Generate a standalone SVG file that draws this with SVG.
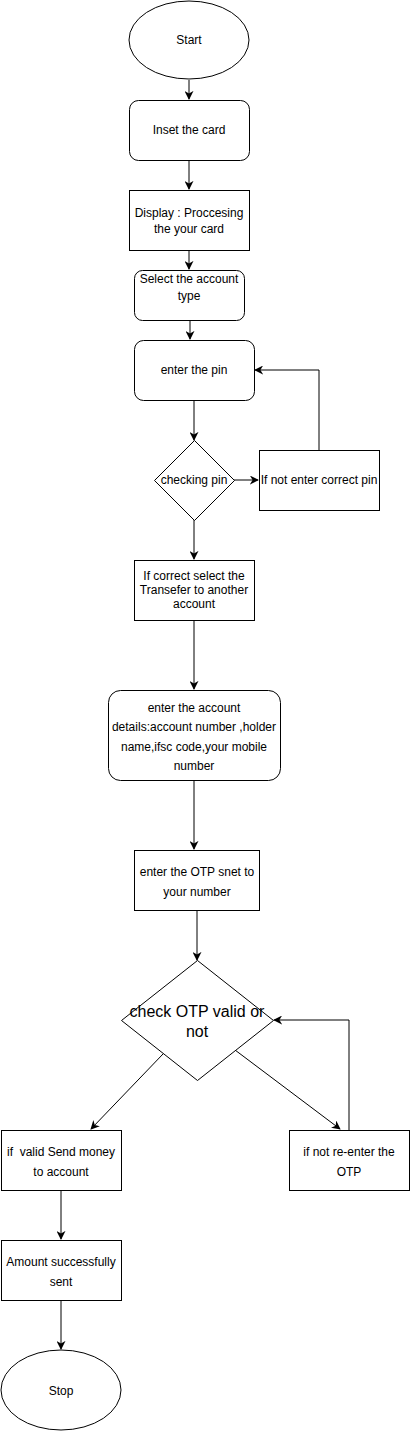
<svg xmlns="http://www.w3.org/2000/svg" width="410" height="1431" viewBox="0 0 410 1431">
<style>
.s{fill:#fff;stroke:#000;stroke-width:1}
.t{font-family:"Liberation Sans",Arial,sans-serif;font-size:12px;fill:#000;text-anchor:middle;white-space:pre}
.big{font-size:16px}
.c{fill:none;stroke:#000;stroke-width:1}
</style>
<defs>
<marker id="a" viewBox="0 0 10 10" refX="9" refY="5" markerWidth="9" markerHeight="9" markerUnits="userSpaceOnUse" orient="auto">
<path d="M0,0 L10,5 L0,10 L3,5 Z" fill="#000"/>
</marker>
</defs>
<rect width="410" height="1431" fill="#fff"/>
<g id="connectors">
<path class="c" d="M189,80 V99" marker-end="url(#a)"/>
<path class="c" d="M189,160 V189" marker-end="url(#a)"/>
<path class="c" d="M189,250 V269" marker-end="url(#a)"/>
<path class="c" d="M190,320 V339" marker-end="url(#a)"/>
<path class="c" d="M194,400 V440" marker-end="url(#a)"/>
<path class="c" d="M234,480 H258" marker-end="url(#a)"/>
<path class="c" d="M319,450 V370 H255" marker-end="url(#a)"/>
<path class="c" d="M194,520 V559" marker-end="url(#a)"/>
<path class="c" d="M194,620 V689" marker-end="url(#a)"/>
<path class="c" d="M194,780 V849" marker-end="url(#a)"/>
<path class="c" d="M197,910 V960" stroke="#555" marker-end="url(#a)"/>
<path class="c" d="M163,1054 L91,1129" marker-end="url(#a)"/>
<path class="c" d="M235,1050 L340,1129" marker-end="url(#a)"/>
<path class="c" d="M349,1130 V1020 H274" marker-end="url(#a)"/>
<path class="c" d="M61,1190 V1239" marker-end="url(#a)"/>
<path class="c" d="M61,1300 V1349" marker-end="url(#a)"/>
</g>
<g id="start">
<ellipse class="s" cx="189" cy="40" rx="60" ry="39"/>
<text class="t" x="189" y="44">Start</text>
</g>
<g id="insert">
<rect class="s" x="129.5" y="100.5" width="120" height="60" rx="9"/>
<text class="t" x="189" y="134">Inset the card</text>
</g>
<g id="display">
<rect class="s" x="129.5" y="190.5" width="120" height="60"/>
<text class="t" x="189" y="217">Display : Proccesing</text>
<text class="t" x="189" y="233">the your card</text>
</g>
<g id="select">
<rect class="s" x="134.5" y="270.5" width="110" height="50" rx="8"/>
<text class="t" x="189" y="283">Select the account</text>
<text class="t" x="189" y="300">type</text>
</g>
<g id="enterpin">
<rect class="s" x="134.5" y="340.5" width="120" height="60" rx="9"/>
<text class="t" x="194" y="374">enter the pin</text>
</g>
<g id="checkpin">
<path class="s" d="M194.5,440.5 L234.5,480.5 L194.5,520.5 L154.5,480.5 Z"/>
<text class="t" x="194" y="484">checking pin</text>
</g>
<g id="wrongpin">
<rect class="s" x="259.5" y="450.5" width="120" height="60"/>
<text class="t" x="319" y="484">If not enter correct pin</text>
</g>
<g id="transfer">
<rect class="s" x="134.5" y="560.5" width="120" height="60"/>
<text class="t" x="194" y="580">If correct select the</text>
<text class="t" x="194" y="594">Transefer to another</text>
<text class="t" x="194" y="608">account</text>
</g>
<g id="details">
<rect class="s" x="108.5" y="690.5" width="172" height="90" rx="12"/>
<text class="t" x="194" y="712">enter the account</text>
<text class="t" x="194" y="731">details:account number ,holder</text>
<text class="t" x="194" y="751">name,ifsc code,your mobile</text>
<text class="t" x="194" y="770">number</text>
</g>
<g id="otp">
<rect class="s" x="134.5" y="850.5" width="125" height="60"/>
<text class="t" x="197" y="876">enter the OTP snet to</text>
<text class="t" x="197" y="896">your number</text>
</g>
<g id="checkotp">
<path class="s" d="M197.5,960.5 L273.5,1020.5 L197.5,1080.5 L121.5,1020.5 Z"/>
<text class="t big" x="197" y="1017">check OTP valid or</text>
<text class="t big" x="197" y="1037">not</text>
</g>
<g id="send">
<rect class="s" x="1.5" y="1130.5" width="120" height="60"/>
<text class="t" x="61" y="1156">if  valid Send money</text>
<text class="t" x="61" y="1176">to account</text>
</g>
<g id="reenter">
<rect class="s" x="289.5" y="1130.5" width="120" height="60"/>
<text class="t" x="349" y="1156">if not re-enter the</text>
<text class="t" x="349" y="1176">OTP</text>
</g>
<g id="amount">
<rect class="s" x="1.5" y="1240.5" width="120" height="60"/>
<text class="t" x="61" y="1266">Amount successfully</text>
<text class="t" x="61" y="1286">sent</text>
</g>
<g id="stop">
<ellipse class="s" cx="61" cy="1390" rx="60" ry="40"/>
<text class="t" x="61" y="1395">Stop</text>
</g>
</svg>
